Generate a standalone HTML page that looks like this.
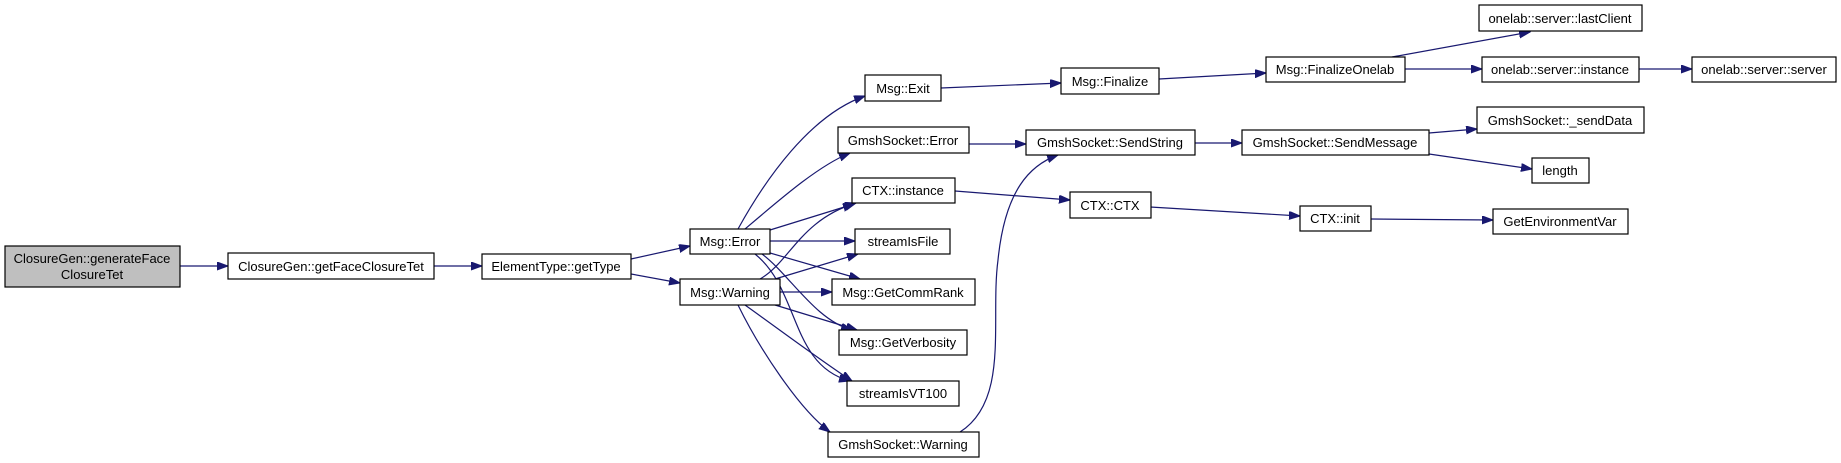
<!DOCTYPE html>
<html><head><meta charset="utf-8"><style>
html,body{margin:0;padding:0;background:#fff;width:1841px;height:463px;overflow:hidden}
svg text{font-family:"Liberation Sans",Arial,sans-serif;font-size:13px;fill:#000}
</style></head><body>
<svg width="1841" height="463" viewBox="0 0 1841 463" xmlns="http://www.w3.org/2000/svg">
<defs><marker id="a" markerUnits="userSpaceOnUse" markerWidth="12" markerHeight="10" refX="11" refY="4" orient="auto"><path d="M0,0 L11,4 L0,8 z" fill="#191970" stroke="#191970"/></marker></defs>
<g fill="none" stroke="#191970" stroke-width="1.2" marker-end="url(#a)">
<path d="M180,266 L228,266"/>
<path d="M434,266 L482,266"/>
<path d="M631,259 L690,246"/>
<path d="M631,274 L680,283"/>
<path d="M738,229 C765,180 810,115 865,96"/>
<path d="M745,229 C785,195 820,165 850,153"/>
<path d="M770,230 L854,204"/>
<path d="M770,241 L855,241"/>
<path d="M770,253 L860,279"/>
<path d="M762,254 C790,275 815,320 852,330"/>
<path d="M755,254 C800,290 790,365 850,381"/>
<path d="M760,279 C790,262 800,220 856,203"/>
<path d="M775,279 L858,254"/>
<path d="M780,292 L832,292"/>
<path d="M775,305 L857,330"/>
<path d="M745,305 C780,330 820,360 852,381"/>
<path d="M738,305 C760,350 800,410 830,432"/>
<path d="M960,432 C1010,400 990,320 998,260 C1005,190 1030,165 1058,155"/>
<path d="M969,144 L1026,144"/>
<path d="M955,191 L1070,200"/>
<path d="M941,88 L1061,83"/>
<path d="M1159,79 L1266,73"/>
<path d="M1392,57 L1530,32"/>
<path d="M1405,69 L1482,69"/>
<path d="M1639,69 L1692,69"/>
<path d="M1195,143 L1242,143"/>
<path d="M1429,133 L1477,129"/>
<path d="M1429,154 L1532,169"/>
<path d="M1150,207 L1300,216"/>
<path d="M1371,219 L1493,220"/>
</g>
<g stroke="#000" stroke-width="1.2" fill="#fff">
<rect x="5" y="246" width="175" height="41" fill="#bfbfbf"/>
<rect x="228" y="253" width="206" height="26"/>
<rect x="482" y="254" width="149" height="25"/>
<rect x="690" y="229" width="80" height="25"/>
<rect x="680" y="279" width="100" height="26"/>
<rect x="865" y="75" width="76" height="26"/>
<rect x="838" y="127" width="131" height="26"/>
<rect x="852" y="178" width="103" height="25"/>
<rect x="855" y="229" width="95" height="25"/>
<rect x="832" y="279" width="143" height="26"/>
<rect x="839" y="330" width="128" height="25"/>
<rect x="847" y="381" width="112" height="25"/>
<rect x="828" y="432" width="151" height="25"/>
<rect x="1026" y="130" width="169" height="25"/>
<rect x="1242" y="130" width="187" height="25"/>
<rect x="1070" y="192" width="81" height="26"/>
<rect x="1300" y="206" width="71" height="25"/>
<rect x="1061" y="68" width="98" height="26"/>
<rect x="1266" y="57" width="139" height="25"/>
<rect x="1479" y="5" width="163" height="26"/>
<rect x="1482" y="57" width="157" height="25"/>
<rect x="1692" y="57" width="144" height="25"/>
<rect x="1477" y="107" width="167" height="26"/>
<rect x="1532" y="158" width="57" height="25"/>
<rect x="1493" y="209" width="135" height="25"/>
</g>
<g text-anchor="middle">
<text x="92" y="263">ClosureGen::generateFace</text>
<text x="92" y="279">ClosureTet</text>
<text x="331" y="271">ClosureGen::getFaceClosureTet</text>
<text x="556" y="271">ElementType::getType</text>
<text x="730" y="246">Msg::Error</text>
<text x="730" y="297">Msg::Warning</text>
<text x="903" y="93">Msg::Exit</text>
<text x="903" y="145">GmshSocket::Error</text>
<text x="903" y="195">CTX::instance</text>
<text x="903" y="246">streamIsFile</text>
<text x="903" y="297">Msg::GetCommRank</text>
<text x="903" y="347">Msg::GetVerbosity</text>
<text x="903" y="398">streamIsVT100</text>
<text x="903" y="449">GmshSocket::Warning</text>
<text x="1110" y="147">GmshSocket::SendString</text>
<text x="1335" y="147">GmshSocket::SendMessage</text>
<text x="1110" y="210">CTX::CTX</text>
<text x="1335" y="223">CTX::init</text>
<text x="1110" y="86">Msg::Finalize</text>
<text x="1335" y="74">Msg::FinalizeOnelab</text>
<text x="1560" y="23">onelab::server::lastClient</text>
<text x="1560" y="74">onelab::server::instance</text>
<text x="1764" y="74">onelab::server::server</text>
<text x="1560" y="125">GmshSocket::_sendData</text>
<text x="1560" y="175">length</text>
<text x="1560" y="226">GetEnvironmentVar</text>
</g>
</svg>
</body></html>
